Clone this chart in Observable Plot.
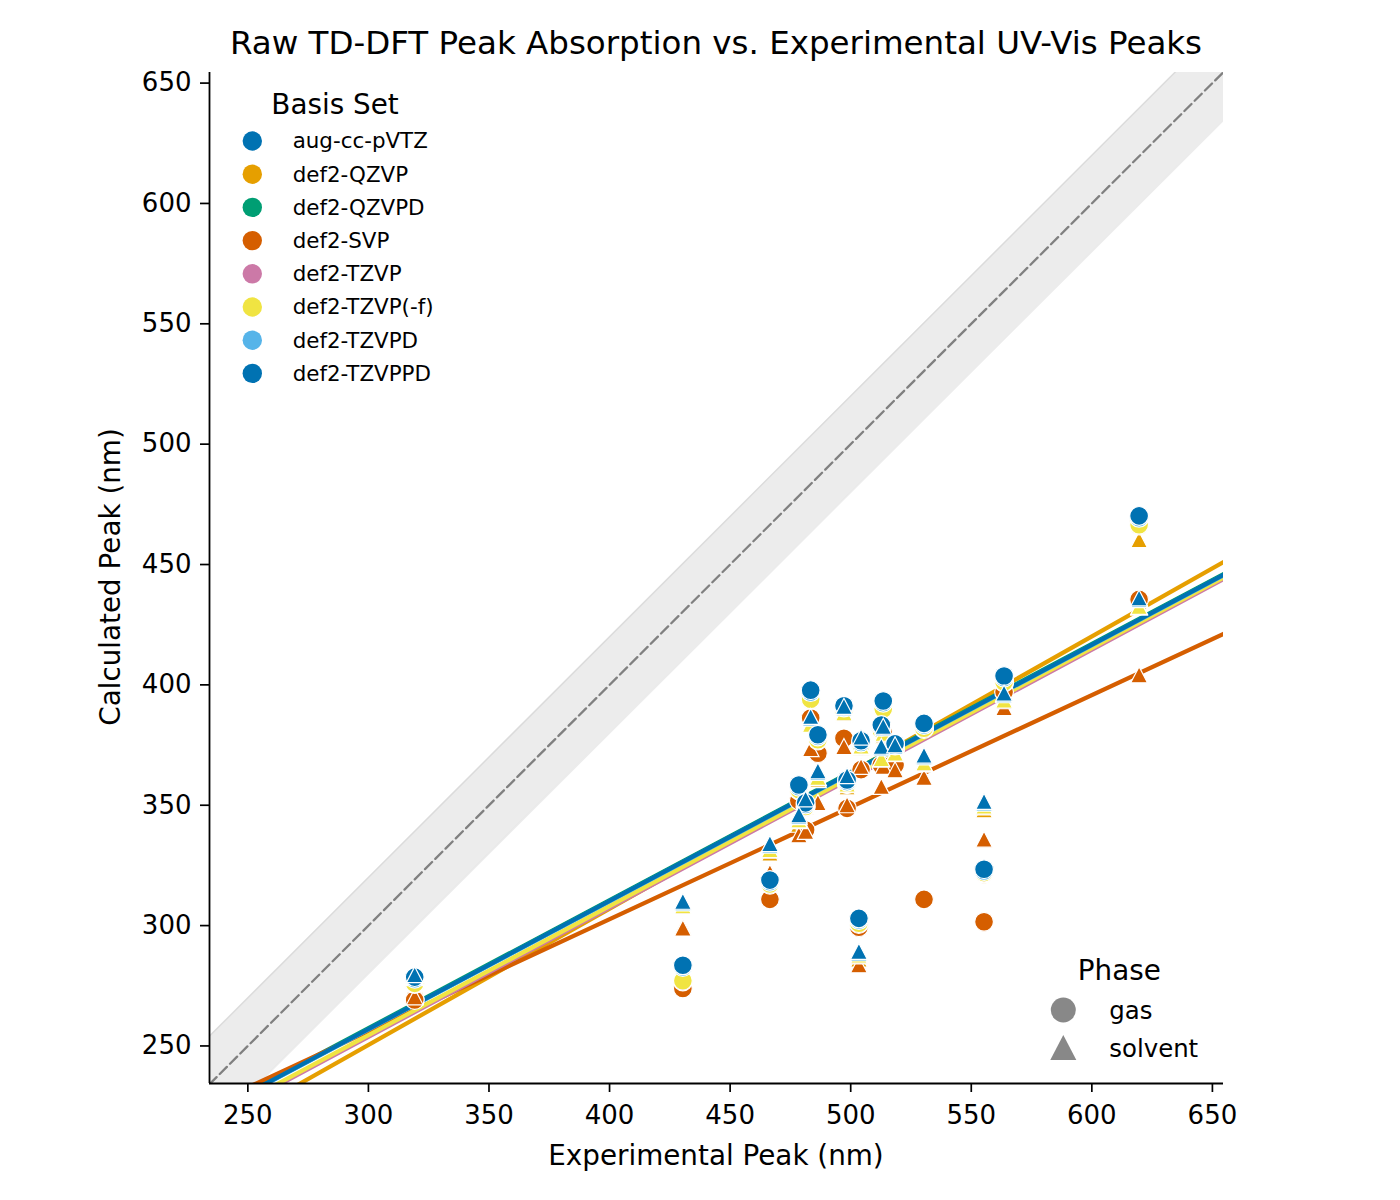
<!DOCTYPE html>
<html>
<head>
<meta charset="utf-8">
<script src="https://cdn.jsdelivr.net/npm/d3@7"></script>
<script src="https://cdn.jsdelivr.net/npm/@observablehq/plot@0.6"></script>
<style>
  body { margin: 0; background: #fff; font-family: "DejaVu Sans", sans-serif; }
  #wrap { position: relative; width: 1400px; height: 1200px; background: #fff; }
  #title { position: absolute; left: 209px; width: 1014px; top: 24px; height: 38px; line-height: 38px;
           text-align: center; font-size: 32.5px; color: #000; white-space: nowrap; }
  #chart { position: absolute; left: 0; top: 62px; }
</style>
</head>
<body>
<div id="wrap">
  <div id="title">Raw TD-DFT Peak Absorption vs. Experimental UV-Vis Peaks</div>
  <div id="chart"></div>
</div>
<script>
// ---------------- data ----------------
const basisSets = ["aug-cc-pVTZ", "def2-QZVP", "def2-QZVPD", "def2-SVP", "def2-TZVP", "def2-TZVP(-f)", "def2-TZVPD", "def2-TZVPPD"];
const basisColors = ["#0072B2", "#E69F00", "#009E73", "#D55E00", "#CC79A7", "#F0E442", "#56B4E9", "#0072B2"];
const phases = ["gas", "solvent"];

const experimentalPeaks = [319.2, 430.4, 466.5, 478.5, 481.3, 483.4, 486.4, 497.2, 498.5, 503.4, 504.3, 512.7, 513.5, 518.4, 530.4, 555.3, 563.6, 619.6];

const gasAugccpVTZ   = [278.4, 283.2, 318.6, 358.1, 350.7, 397.5, 379.0, 391.0, 360.2, 302.7, 376.5, 383.0, 393.0, 375.2, 383.7, 323.1, 403.4, 469.9];
const solvAugccpVTZ  = [279.2, 309.7, 333.7, 345.6, 352.2, 386.5, 363.9, 390.7, 361.9, 288.9, 377.9, 374.1, 382.4, 374.7, 370.4, 351.2, 396.2, 435.7];
const gasQZVP        = [269.5, 276.5, 316.5, 356.0, 349.0, 394.5, 377.5, 389.0, 358.5, 300.5, 375.0, 381.0, 390.5, 373.5, 382.0, 321.5, 401.5, 468.0];
const solvQZVP       = [270.5, 299.5, 330.0, 342.0, 349.5, 383.0, 360.5, 387.5, 357.5, 286.0, 374.0, 369.0, 379.0, 371.0, 367.0, 348.0, 393.0, 460.2];
const gasQZVPD       = [278.1, 283.0, 318.4, 357.9, 350.5, 397.2, 378.8, 390.8, 360.0, 302.5, 376.3, 382.8, 392.8, 375.0, 383.5, 322.9, 403.2, 469.6];
const solvQZVPD      = [279.0, 309.5, 333.5, 345.4, 352.0, 386.3, 363.7, 390.5, 361.7, 288.7, 377.7, 373.9, 382.2, 374.5, 370.2, 351.0, 396.0, 435.5];
const gasSVP         = [269.1, 273.9, 310.9, 352.0, 339.7, 386.2, 371.6, 377.8, 348.7, 299.3, 364.8, 366.7, 380.0, 366.7, 310.9, 301.6, 397.0, 435.5];
const solvSVP        = [270.3, 298.9, 322.0, 337.6, 339.0, 373.4, 351.0, 374.3, 350.1, 283.6, 366.0, 357.7, 366.0, 364.6, 361.5, 335.8, 390.5, 404.1];
const gasTZVP        = [275.7, 276.8, 317.0, 356.2, 349.2, 393.7, 376.9, 389.2, 358.7, 300.7, 374.7, 380.9, 389.7, 373.5, 381.7, 321.7, 400.9, 466.2];
const solvTZVP       = [278.0, 307.8, 331.2, 343.5, 350.2, 383.2, 361.2, 388.0, 358.4, 287.3, 374.2, 369.0, 379.5, 371.3, 367.2, 349.2, 393.3, 432.2];
const gasTZVPnof     = [276.0, 277.1, 317.3, 356.5, 349.5, 394.0, 377.2, 389.5, 359.0, 301.0, 375.0, 381.2, 390.0, 373.8, 382.0, 322.0, 401.2, 466.5];
const solvTZVPnof    = [278.3, 308.1, 331.5, 343.8, 350.5, 383.5, 361.5, 388.3, 358.7, 287.6, 374.5, 369.3, 379.8, 371.6, 367.5, 349.5, 393.6, 432.5];
const gasTZVPD       = [277.9, 282.8, 318.2, 357.7, 350.3, 397.0, 378.6, 390.6, 359.8, 302.3, 376.1, 382.6, 392.6, 374.8, 383.3, 322.7, 403.0, 469.4];
const solvTZVPD      = [278.8, 309.3, 333.3, 345.2, 351.8, 386.1, 363.5, 390.3, 361.5, 288.5, 377.5, 373.7, 382.0, 374.3, 370.0, 350.8, 395.8, 435.3];
const gasTZVPPD      = [278.6, 283.5, 318.9, 358.4, 351.0, 397.8, 379.3, 391.3, 360.5, 303.0, 376.8, 383.3, 393.3, 375.5, 384.0, 323.4, 403.7, 470.2];
const solvTZVPPD     = [279.5, 310.0, 334.0, 345.9, 352.5, 386.8, 364.2, 391.0, 362.2, 289.2, 378.2, 374.4, 382.7, 375.0, 370.7, 351.5, 396.5, 436.0];

// regression fits: calculated = intercept + slope * experimental
const fitSlope     = [0.5323, 0.5657, 0.5320, 0.4656, 0.5362, 0.5362, 0.5323, 0.5323];
const fitIntercept = [97.3, 80.7, 97.8, 116.4, 92.9, 93.6, 97.1, 97.3];

const axisTicks = [250, 300, 350, 400, 450, 500, 550, 600, 650];
const xDomain = [234.1, 654.6];
const yDomain = [234.4, 654.4];
const bandHalfWidth = 20;

const gasValues  = [gasAugccpVTZ, gasQZVP, gasQZVPD, gasSVP, gasTZVP, gasTZVPnof, gasTZVPD, gasTZVPPD];
const solvValues = [solvAugccpVTZ, solvQZVP, solvQZVPD, solvSVP, solvTZVP, solvTZVPnof, solvTZVPD, solvTZVPPD];

// ---------------- symbols ----------------
const triSymbol = {
  draw(ctx, size) {
    const r = Math.sqrt(size / Math.PI);
    const w = r * 0.93, t = r * 0.92, b = r * 0.86;
    ctx.moveTo(0, -t); ctx.lineTo(w, b); ctx.lineTo(-w, b); ctx.closePath();
  }
};

// ---------------- marks ----------------
const bandRows = xDomain.map(x => ({x, lo: x - bandHalfWidth, hi: x + bandHalfWidth}));
const marks = [];
marks.push(Plot.areaY(bandRows, {x: "x", y1: "lo", y2: "hi", fill: "#7f7f7f", fillOpacity: 0.15, clip: true}));
marks.push(Plot.line(bandRows, {x: "x", y: "lo", stroke: "#7f7f7f", strokeOpacity: 0.15, strokeWidth: 1.5, clip: true}));
marks.push(Plot.line(bandRows, {x: "x", y: "hi", stroke: "#7f7f7f", strokeOpacity: 0.15, strokeWidth: 1.5, clip: true}));
marks.push(Plot.line(bandRows, {x: "x", y: "x", stroke: "#808080", strokeWidth: 2.3, strokeDasharray: "10,4.5", clip: true}));

basisSets.forEach((b, i) => {
  const rows = xDomain.map(x => ({x, y: fitIntercept[i] + fitSlope[i] * x}));
  marks.push(Plot.line(rows, {x: "x", y: "y", stroke: basisColors[i], strokeWidth: 4.2, clip: true}));
});

basisSets.forEach((b, i) => {
  [gasValues[i], solvValues[i]].forEach((vals, k) => {
    const rows = experimentalPeaks.map((x, j) => ({x, y: vals[j], basis: b, phase: phases[k]}));
    marks.push(Plot.dot(rows, {
      x: "x", y: "y", r: k === 0 ? 9.4 : 9.0,
      symbol: k === 0 ? "circle" : triSymbol,
      fill: basisColors[i], stroke: "white", strokeWidth: 1.2
    }));
  });
});

marks.push(Plot.axisX({ticks: axisTicks, tickSize: 9, tickPadding: 13, fontSize: 26, label: null, strokeWidth: 1.7}));
marks.push(Plot.axisY({ticks: axisTicks, tickSize: 9, tickPadding: 9, fontSize: 26, label: null, strokeWidth: 1.7}));
marks.push(Plot.ruleX([xDomain[0]], {stroke: "black", strokeWidth: 1.8}));
marks.push(Plot.ruleY([yDomain[0]], {stroke: "black", strokeWidth: 1.8}));

const svgH = 1138;
const chart = Plot.plot({
  width: 1400,
  height: svgH,
  marginLeft: 209,
  marginRight: 177,
  marginTop: 10,
  marginBottom: 117,
  x: {domain: xDomain},
  y: {domain: yDomain},
  style: {fontFamily: "DejaVu Sans", fontSize: "26px", color: "black", background: "white", overflow: "visible"},
  marks
});
document.getElementById("chart").appendChild(chart);

// ---------------- labels & legends ----------------
const svg = d3.select(chart);
const off = 62; // page offset of the svg
const g = svg.append("g").attr("font-family", "DejaVu Sans").attr("fill", "black").attr("text-anchor", "start");

g.append("text").attr("x", 716).attr("y", 1155 - off).attr("dy", "0.35em")
  .attr("text-anchor", "middle").attr("font-size", 27.8).text("Experimental Peak (nm)");
g.append("text").attr("transform", `translate(110,${577 - off}) rotate(-90)`).attr("dy", "0.35em")
  .attr("text-anchor", "middle").attr("font-size", 27.8).text("Calculated Peak (nm)");

// basis-set legend
g.append("text").attr("x", 335).attr("y", 104 - off).attr("dy", "0.35em")
  .attr("text-anchor", "middle").attr("font-size", 27.8).text("Basis Set");
basisSets.forEach((b, i) => {
  const cy = 141 - off + i * 33.2;
  g.append("circle").attr("cx", 252.3).attr("cy", cy).attr("r", 9.7).attr("fill", basisColors[i]);
  g.append("text").attr("x", 292.7).attr("y", cy).attr("dy", "0.35em")
    .attr("text-anchor", "start").attr("font-size", 21.4).text(b);
});

// phase legend
g.append("text").attr("x", 1119.3).attr("y", 970 - off).attr("dy", "0.35em")
  .attr("text-anchor", "middle").attr("font-size", 27.8).text("Phase");
const phaseSymbols = [d3.symbolCircle, triSymbol];
const phaseY = [1010, 1048];
phases.forEach((p, k) => {
  const r = k === 0 ? 12.5 : 14;
  g.append("path").attr("transform", `translate(1063.3,${phaseY[k] - off})`)
    .attr("d", d3.symbol().type(phaseSymbols[k]).size(Math.PI * r * r)())
    .attr("fill", "#888888");
  g.append("text").attr("x", 1109.3).attr("y", phaseY[k] - off).attr("dy", "0.35em")
    .attr("text-anchor", "start").attr("font-size", 24.4).text(p);
});
</script>
</body>
</html>
